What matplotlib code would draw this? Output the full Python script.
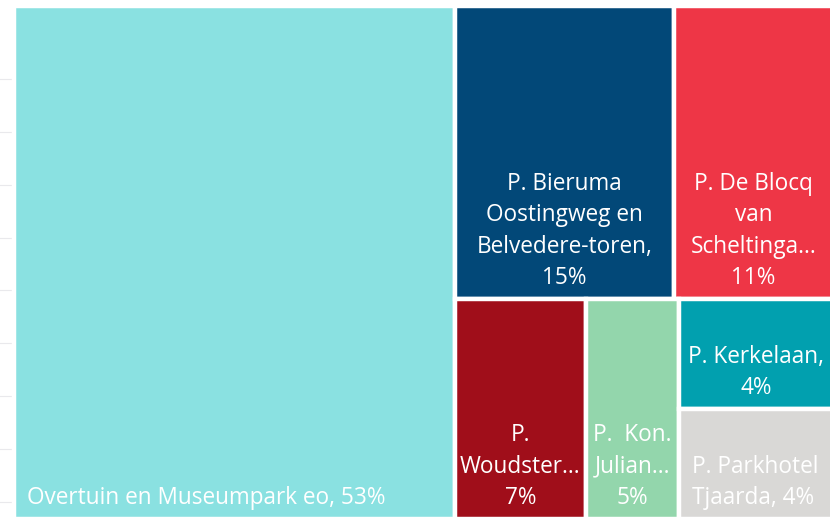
import numpy as np
import matplotlib.pyplot as plt
from matplotlib.patches import Rectangle

# treemap data (share in %)
labels = ["Overtuin en Museumpark eo, {}%",
          "P. Bieruma\nOostingweg en\nBelvedere-toren,\n{}%",
          "P. De Blocq\nvan\nScheltinga...\n{}%",
          "P.\nWoudster...\n{}%",
          "P.  Kon.\nJulian...\n{}%",
          "P. Kerkelaan,\n{}%",
          "P. Parkhotel\nTjaarda, {}%"]
values = [53.4, 15.2, 11.0, 6.8, 4.8, 4.0, 4.0]
colors = ["#8AE1E1", "#024878", "#EE3646", "#A00E1A", "#93D6AC", "#01A0AF", "#D9D8D6"]
align = ["left", "center", "center", "center", "center", "center", "left"]

plt.rcParams['font.family'] = ['Open Sans', 'DejaVu Sans']

fig = plt.figure(figsize=(8.3, 5.17), dpi=100)

# faint gridlines of the neighbouring visual on the far left
axg = fig.add_axes([0, -11.4 / 517, 13 / 830, 476 / 517])
axg.set_ylim(-0.5, 8.5)
axg.set_yticks(np.arange(9))
axg.grid(axis="y", color="#E9E9EC", lw=0.8)
axg.tick_params(length=0, labelleft=False, labelbottom=False)
for s in axg.spines.values():
    s.set_visible(False)

ax = fig.add_axes([0, 0, 1, 1])
ax.set_xlim(0, 830)
ax.set_ylim(517, 0)
ax.axis("off")

# full treemap box (pixel units, extends slightly past the crop)
x0, y0, W, H = 14.0, 5.75, 819.0, 513.5
tot = sum(values)

# left column: biggest item
w0 = W * values[0] / tot
rects = [(x0, y0, w0, H)]
# right part: top row [1, 2], bottom row [3, 4, (5 over 6)]
rx, rw = x0 + w0, W - w0
rtot = tot - values[0]
top = values[1] + values[2]
th = H * top / rtot
cx = rx
for v in values[1:3]:
    w = rw * v / top
    rects.append((cx, y0, w, th))
    cx += w
bot = rtot - top
bh = H - th
by = y0 + th
cx = rx
for v in values[3:5]:
    w = rw * v / bot
    rects.append((cx, by, w, bh))
    cx += w
cw = rx + rw - cx
pair = values[5] + values[6]
cy = by
for v in values[5:7]:
    h = bh * v / pair
    rects.append((cx, cy, cw, h))
    cy += h

for (x, y, w, h), c, lab, v, ha in zip(rects, colors, labels, values, align):
    ax.add_patch(Rectangle((x, y), w, h, facecolor=c, edgecolor="white", lw=3.2))
    tx = x + 13 if ha == "left" else x + w / 2
    ax.text(tx, y + h - 9, lab.format(round(v)), color="white", fontsize=16.3,
            ha=ha, va="bottom", multialignment=ha, linespacing=1.42)

fig.savefig("out.png", dpi=100)
